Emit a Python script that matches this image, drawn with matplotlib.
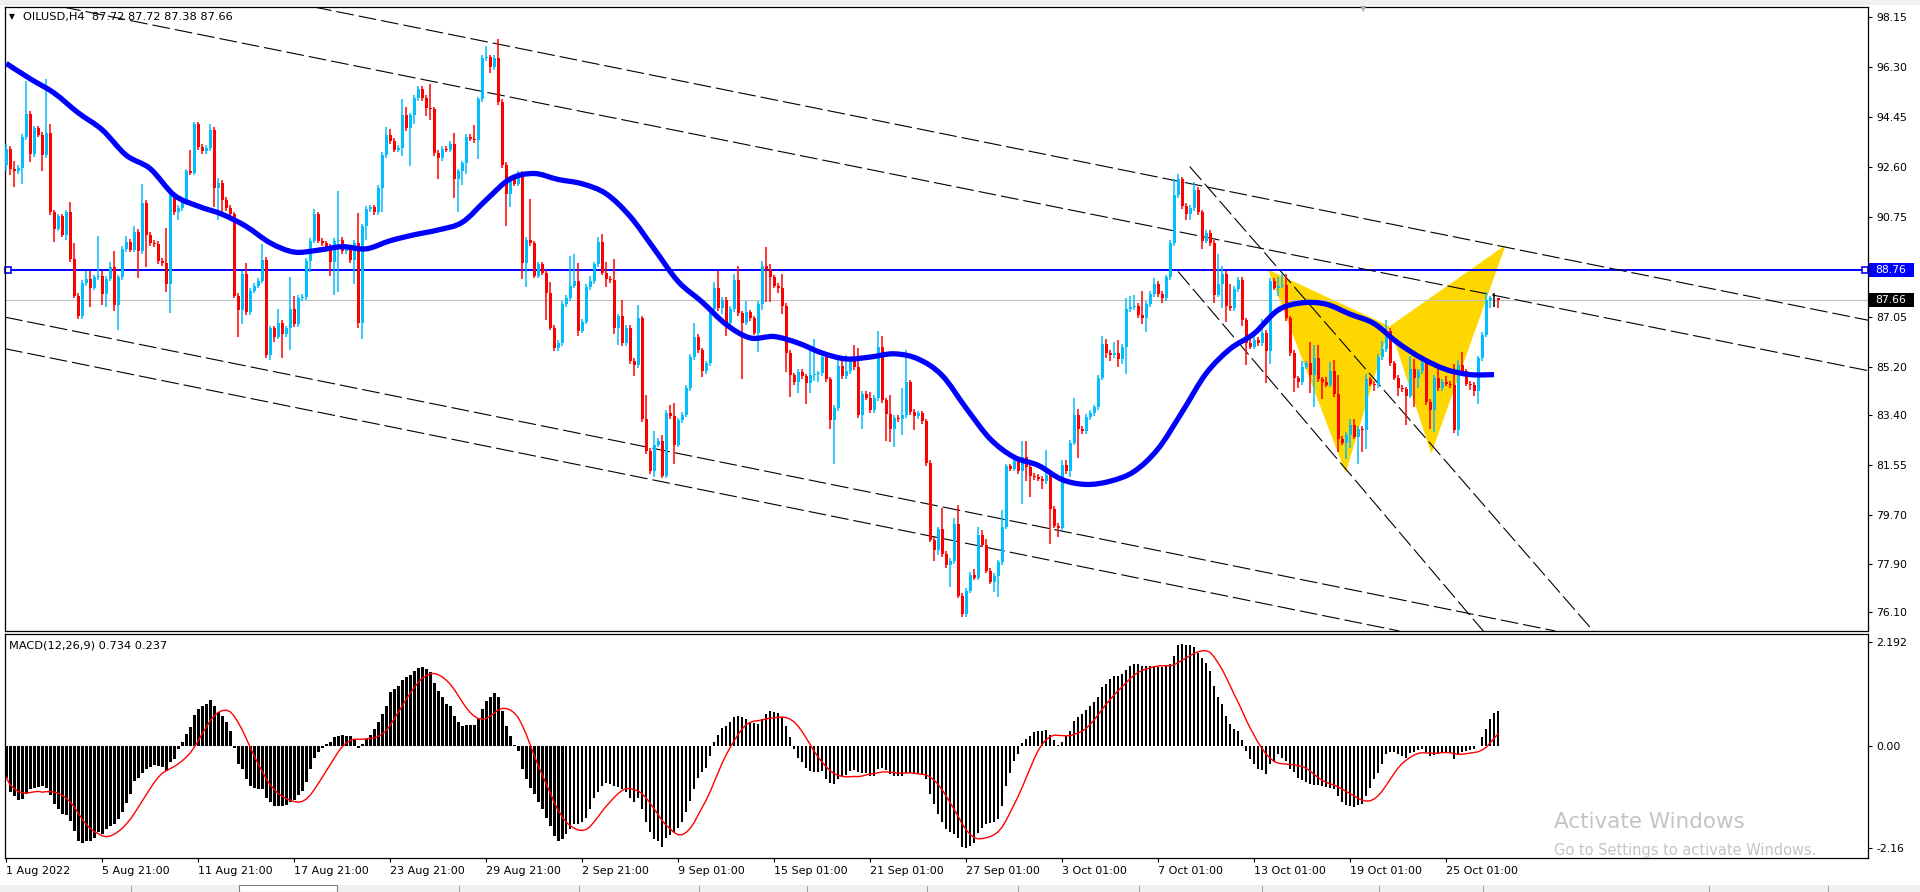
import numpy as np
import pandas as pd
import matplotlib
matplotlib.use("Agg")
import matplotlib.pyplot as plt
from matplotlib.patches import Polygon, Rectangle, PathPatch
from matplotlib.path import Path
from matplotlib.transforms import IdentityTransform

plt.rcParams['font.family'] = ['DejaVu Sans']

# ---------------- data (H4 bars, 1 Aug - 27 Oct 2022) ----------------
symbol = "OILUSD,H4"
last_ohlc = "87.72 87.72 87.38 87.66"
first_open = 92.66

closes = [
    93.26, 92.51, 92.45, 92.55, 93.71, 94.57, 93.06, 94.02, 93.79, 93.03, 93.87, 90.91, 90.31, 90.76, 90.08, 90.91, 89.18, 87.82, 87.06, 88.29, 88.45, 88.12, 88.50, 88.54,
    87.89, 88.45, 88.88, 87.47, 88.50, 89.56, 89.83, 89.53, 90.20, 89.48, 91.26, 90.08, 89.78, 89.74, 89.11, 89.03, 88.27, 91.52, 90.91, 91.07, 91.29, 92.43, 92.38, 94.17,
    93.34, 93.18, 93.30, 93.97, 91.82, 92.00, 91.37, 91.07, 90.84, 87.82, 87.29, 88.62, 87.21, 88.01, 88.20, 88.38, 89.15, 85.63, 86.61, 86.31, 86.83, 86.41, 86.61, 87.33,
    86.76, 87.74, 87.77, 89.11, 89.86, 90.84, 89.86, 89.76, 89.64, 89.06, 89.86, 89.89, 89.48, 89.55, 89.15, 89.78, 86.83, 90.39, 91.04, 91.10, 90.91, 91.82, 93.03, 93.79,
    93.56, 93.23, 93.30, 94.50, 94.02, 94.50, 95.15, 95.48, 95.15, 94.77, 94.73, 93.11, 92.93, 93.26, 93.23, 93.44, 92.13, 92.43, 92.73, 93.71, 93.64, 93.59, 95.10, 96.63,
    96.66, 96.28, 96.63, 95.00, 92.66, 91.60, 92.13, 91.97, 92.35, 89.03, 89.89, 89.76, 88.57, 88.98, 88.68, 87.94, 86.64, 85.88, 86.07, 87.51, 87.74, 88.20, 88.35, 86.53,
    86.86, 88.15, 88.35, 88.98, 89.81, 88.68, 88.45, 88.40, 86.61, 87.06, 86.07, 86.64, 85.40, 85.25, 86.98, 83.25, 82.07, 81.31, 82.30, 82.45, 81.16, 83.48, 83.36, 82.30,
    83.20, 83.42, 84.41, 85.55, 86.31, 85.80, 85.02, 85.32, 87.32, 88.12, 87.36, 87.66, 86.83, 87.33, 88.42, 87.17, 86.83, 87.21, 86.98, 86.45, 87.51, 88.92, 88.80, 88.50,
    88.20, 88.12, 87.44, 85.70, 84.87, 84.61, 84.99, 84.83, 84.60, 84.87, 84.92, 84.95, 85.55, 84.72, 83.20, 83.66, 85.22, 84.84, 85.02, 85.40, 85.17, 83.39, 84.18, 84.05,
    83.58, 84.03, 85.93, 83.95, 83.43, 82.90, 83.30, 83.25, 83.39, 84.61, 83.51, 83.36, 83.46, 83.17, 81.62, 78.79, 78.40, 79.17, 78.25, 77.84, 77.99, 79.38, 76.71, 76.03,
    76.89, 77.49, 77.38, 78.94, 78.60, 77.64, 77.23, 77.45, 77.94, 79.27, 81.50, 81.42, 81.69, 81.31, 81.84, 81.47, 81.16, 81.10, 81.05, 80.96, 81.19, 79.93, 79.30, 79.20,
    81.54, 81.31, 82.38, 83.42, 82.90, 82.80, 83.33, 83.48, 83.69, 84.79, 86.03, 85.70, 85.62, 85.70, 85.48, 85.93, 87.33, 87.41, 87.45, 87.09, 86.98, 87.51, 87.89, 88.27,
    87.89, 87.74, 88.50, 89.78, 91.55, 92.13, 91.14, 90.84, 91.07, 91.75, 90.91, 89.86, 90.16, 89.78, 87.86, 88.27, 88.62, 87.44, 87.36, 88.07, 88.42, 86.91, 86.07, 85.93,
    86.20, 86.07, 86.45, 85.78, 88.38, 88.12, 88.20, 88.23, 86.98, 85.70, 84.76, 84.61, 85.20, 85.32, 84.90, 85.50, 84.72, 84.61, 84.53, 85.05, 84.18, 82.52, 82.38, 82.67,
    83.05, 82.60, 82.90, 82.85, 84.72, 84.56, 84.50, 85.55, 85.85, 86.53, 85.32, 84.79, 84.41, 84.35, 84.12, 85.09, 84.79, 85.02, 85.32, 83.89, 83.58, 84.79, 84.41, 84.64,
    84.56, 84.50, 82.83, 85.25, 85.02, 84.56, 84.53, 84.30, 85.50, 86.38, 87.66, 87.72, 87.72, 87.66,
]

# wick lengths above / below the body, in tenths of a dollar
wick_up = [
    2, 1, 3, 1, 1, 12, 1, 1, 1, 1, 20, 3, 1, 1, 1, 1, 4, 6, 1, 1, 3, 3, 1, 15,
    2, 1, 2, 6, 1, 1, 2, 1, 2, 1, 7, 1, 1, 1, 1, 1, 13, 1, 1, 1, 1, 1, 8, 1,
    1, 1, 1, 2, 1, 2, 1, 1, 1, 1, 1, 1, 4, 1, 1, 1, 6, 1, 1, 1, 5, 1, 1, 12,
    5, 1, 1, 1, 1, 2, 1, 1, 1, 1, 1, 18, 1, 1, 1, 1, 11, 1, 1, 1, 1, 1, 1, 3,
    2, 1, 1, 6, 3, 1, 1, 1, 1, 1, 9, 1, 1, 1, 1, 1, 4, 1, 1, 1, 1, 5, 1, 1,
    4, 1, 1, 7, 1, 1, 1, 1, 1, 1, 1, 15, 1, 1, 1, 1, 4, 1, 1, 1, 1, 11, 10, 7,
    1, 1, 2, 1, 2, 3, 4, 1, 8, 1, 6, 1, 1, 1, 5, 1, 9, 1, 5, 1, 2, 1, 3, 5,
    1, 1, 1, 1, 5, 1, 1, 1, 1, 2, 6, 1, 1, 1, 2, 5, 1, 4, 1, 1, 1, 2, 7, 2,
    1, 1, 5, 1, 1, 1, 1, 1, 1, 11, 13, 1, 1, 1, 1, 1, 3, 3, 6, 1, 6, 7, 1, 1,
    2, 1, 6, 4, 1, 7, 1, 1, 10, 12, 1, 1, 1, 1, 1, 1, 1, 1, 8, 1, 1, 2, 7, 1,
    1, 1, 2, 3, 2, 2, 1, 1, 1, 6, 1, 1, 2, 1, 6, 6, 1, 1, 1, 1, 9, 1, 1, 1,
    2, 2, 1, 6, 2, 1, 1, 1, 1, 1, 3, 2, 1, 4, 5, 1, 4, 4, 4, 1, 9, 1, 1, 2,
    1, 1, 1, 1, 6, 2, 1, 1, 1, 3, 1, 1, 1, 1, 1, 11, 3, 1, 8, 1, 1, 1, 1, 3,
    2, 1, 5, 1, 1, 1, 3, 4, 4, 1, 1, 1, 2, 1, 8, 5, 5, 1, 2, 3, 4, 7, 1, 1,
    2, 2, 1, 1, 2, 1, 1, 1, 3, 4, 1, 1, 1, 1, 1, 5, 4, 1, 2, 2, 1, 1, 5, 1,
    2, 1, 8, 2, 5, 1, 1, 1, 1, 1, 3, 1, 2, 0,
]
wick_dn = [
    2, 2, 6, 1, 6, 1, 3, 1, 1, 6, 1, 1, 5, 1, 1, 2, 1, 1, 1, 1, 1, 7, 1, 1,
    4, 5, 1, 2, 9, 1, 1, 1, 1, 10, 1, 12, 1, 1, 1, 1, 3, 11, 1, 3, 1, 1, 1, 1,
    1, 1, 1, 1, 7, 12, 5, 1, 1, 1, 10, 5, 1, 1, 1, 1, 1, 1, 2, 2, 1, 9, 1, 8,
    1, 1, 1, 1, 4, 1, 1, 1, 1, 5, 12, 19, 1, 1, 1, 9, 2, 6, 5, 1, 1, 1, 9, 1,
    1, 1, 1, 3, 1, 14, 3, 1, 1, 3, 4, 1, 8, 1, 1, 1, 7, 12, 5, 4, 1, 1, 7, 1,
    1, 2, 1, 1, 1, 12, 5, 1, 1, 6, 9, 1, 1, 1, 1, 10, 1, 1, 1, 1, 1, 1, 1, 2,
    1, 1, 1, 1, 1, 1, 3, 1, 2, 6, 1, 1, 1, 4, 1, 1, 1, 1, 2, 1, 1, 1, 1, 7,
    1, 1, 1, 1, 1, 1, 2, 1, 1, 1, 1, 2, 5, 1, 1, 1, 21, 1, 1, 1, 7, 2, 12, 9,
    1, 2, 3, 7, 8, 1, 4, 1, 8, 4, 2, 3, 1, 1, 3, 16, 1, 1, 1, 1, 1, 1, 5, 1,
    1, 1, 1, 1, 10, 5, 7, 1, 6, 1, 1, 5, 1, 1, 1, 1, 4, 2, 1, 1, 8, 1, 1, 1,
    1, 1, 1, 1, 1, 1, 1, 4, 8, 1, 1, 1, 1, 1, 12, 5, 8, 1, 1, 3, 1, 13, 1, 3,
    1, 1, 2, 1, 11, 1, 1, 1, 1, 1, 1, 2, 2, 1, 3, 2, 10, 1, 1, 1, 2, 5, 1, 1,
    1, 2, 1, 1, 1, 1, 1, 2, 2, 1, 1, 3, 1, 1, 3, 1, 9, 6, 1, 1, 1, 2, 8, 1,
    1, 1, 1, 12, 5, 1, 3, 1, 1, 1, 5, 2, 1, 1, 7, 12, 1, 6, 1, 1, 1, 5, 1, 6,
    5, 1, 10, 8, 7, 1, 2, 1, 1, 1, 1, 1, 3, 1, 11, 1, 11, 4, 1, 1, 7, 8, 1, 1,
    1, 1, 1, 2, 1, 1, 2, 2, 5, 1, 1, 3, 3, 3,
]

# blue moving average, read every 6th bar
ma_step = 6
ma_values = [
    96.43, 95.86, 95.33, 94.60, 93.97, 93.03, 92.53, 91.55, 91.14, 90.84, 90.39,
    89.78, 89.44, 89.51, 89.64, 89.56, 89.86, 90.08, 90.26, 90.54, 91.37, 92.15,
    92.35, 92.13, 91.97, 91.60, 90.76, 89.56, 88.35, 87.59, 86.76, 86.26,
    86.31, 86.07, 85.70, 85.48, 85.55, 85.67, 85.48, 84.87, 83.66, 82.52,
    81.84, 81.54, 81.01, 80.83, 80.95, 81.31, 82.15, 83.51, 84.94, 85.85,
    86.42, 87.29, 87.56, 87.51, 87.14, 86.79, 86.07, 85.50, 85.09, 84.90, 84.90,
]

# MACD(12,26,9) main line, one value per bar
macd_main = [
    -0.67, -0.98, -1.05, -1.14, -1.11, -1.02, -0.91, -0.88, -0.86, -0.84, -0.88, -1.03, -1.23, -1.33, -1.44, -1.45, -1.58, -1.80, -2.00, -2.04, -2.01, -2.00, -1.93, -1.82,
    -1.86, -1.75, -1.68, -1.65, -1.54, -1.40, -1.21, -1.02, -0.74, -0.67, -0.58, -0.49, -0.44, -0.41, -0.42, -0.44, -0.53, -0.35, -0.28, -0.06, 0.07, 0.25, 0.39, 0.65,
    0.77, 0.83, 0.88, 0.96, 0.84, 0.72, 0.62, 0.49, 0.32, -0.04, -0.39, -0.49, -0.70, -0.84, -0.88, -0.90, -0.91, -1.09, -1.19, -1.26, -1.26, -1.26, -1.25, -1.19,
    -1.14, -1.04, -0.95, -0.76, -0.49, -0.25, -0.13, -0.04, 0.04, 0.07, 0.18, 0.21, 0.22, 0.21, 0.20, 0.14, -0.04, 0.04, 0.15, 0.22, 0.35, 0.49, 0.67, 0.84,
    1.14, 1.19, 1.26, 1.39, 1.44, 1.49, 1.58, 1.63, 1.66, 1.61, 1.56, 1.33, 1.16, 1.02, 0.88, 0.83, 0.62, 0.51, 0.42, 0.44, 0.44, 0.44, 0.58, 0.77,
    0.95, 1.02, 1.11, 1.02, 0.74, 0.41, 0.21, 0.01, -0.11, -0.49, -0.70, -0.88, -1.02, -1.19, -1.33, -1.51, -1.68, -1.89, -2.00, -1.95, -1.86, -1.74, -1.65, -1.65,
    -1.61, -1.51, -1.33, -1.09, -0.97, -0.84, -0.79, -0.81, -0.84, -0.86, -0.91, -0.98, -1.09, -1.18, -1.09, -1.33, -1.60, -1.81, -1.95, -2.00, -2.12, -1.93, -1.88, -1.82,
    -1.72, -1.60, -1.40, -1.16, -0.91, -0.67, -0.56, -0.46, -0.21, 0.07, 0.22, 0.38, 0.41, 0.49, 0.61, 0.63, 0.60, 0.56, 0.51, 0.48, 0.46, 0.56, 0.67, 0.74,
    0.72, 0.69, 0.60, 0.42, 0.18, -0.07, -0.25, -0.34, -0.46, -0.53, -0.55, -0.56, -0.53, -0.69, -0.79, -0.81, -0.70, -0.63, -0.62, -0.53, -0.51, -0.56, -0.58, -0.58,
    -0.63, -0.63, -0.48, -0.46, -0.51, -0.60, -0.63, -0.63, -0.63, -0.58, -0.58, -0.58, -0.58, -0.60, -0.70, -1.02, -1.23, -1.44, -1.60, -1.75, -1.82, -1.86, -1.93, -2.12,
    -2.14, -2.11, -2.04, -1.84, -1.72, -1.65, -1.63, -1.60, -1.54, -1.26, -0.84, -0.58, -0.32, -0.18, 0.06, 0.14, 0.21, 0.28, 0.32, 0.32, 0.33, 0.22, 0.13, 0.01,
    0.07, 0.20, 0.32, 0.53, 0.60, 0.67, 0.76, 0.84, 0.91, 1.02, 1.23, 1.30, 1.40, 1.47, 1.47, 1.51, 1.60, 1.68, 1.72, 1.72, 1.68, 1.68, 1.68, 1.68,
    1.66, 1.65, 1.67, 1.72, 1.89, 2.12, 2.14, 2.12, 2.11, 2.07, 1.95, 1.84, 1.75, 1.58, 1.26, 1.02, 0.88, 0.63, 0.46, 0.36, 0.32, 0.12, -0.11, -0.28,
    -0.39, -0.49, -0.51, -0.60, -0.39, -0.32, -0.18, -0.25, -0.32, -0.49, -0.56, -0.67, -0.72, -0.77, -0.81, -0.83, -0.83, -0.84, -0.86, -0.88, -0.90, -1.05, -1.19, -1.25,
    -1.26, -1.28, -1.25, -1.23, -1.05, -0.88, -0.69, -0.58, -0.39, -0.18, -0.13, -0.14, -0.18, -0.21, -0.25, -0.15, -0.13, -0.08, -0.06, -0.13, -0.21, -0.20, -0.18, -0.15,
    -0.14, -0.15, -0.27, -0.18, -0.13, -0.11, -0.08, -0.07, -0.01, 0.18, 0.36, 0.56, 0.69, 0.73,
]
macd_header = "MACD(12,26,9) 0.734 0.237"

time_labels = ["1 Aug 2022", "5 Aug 21:00", "11 Aug 21:00", "17 Aug 21:00", "23 Aug 21:00",
               "29 Aug 21:00", "2 Sep 21:00", "9 Sep 01:00", "15 Sep 01:00", "21 Sep 01:00",
               "27 Sep 01:00", "3 Oct 01:00", "7 Oct 01:00", "13 Oct 01:00", "19 Oct 01:00",
               "25 Oct 01:00"]
label_step = 24

price_ticks = [98.15, 96.30, 94.45, 92.60, 90.75, 88.90, 87.05, 85.20, 83.40, 81.55, 79.70, 77.90, 76.10]
macd_ticks = [2.192, 0.00, -2.16]
macd_tick_labels = ["2.192", "0.00", "-2.16"]

level_line = 88.76
bid_price = 87.66

# trend lines: (bar1, price1, bar2, price2, infinite)
trendlines = [
    (78.3, 98.48, 374.6, 89.63, True),
    (63.8, 97.04, 374.6, 87.76, True),
    (0.0, 87.02, 300.0, 78.02, True),
    (0.0, 85.85, 300.0, 76.85, True),
    (295.9, 92.61, 396.8, 75.40, False),
    (293.0, 88.72, 369.3, 75.40, False),
]
# harmonic pattern points (bar, price)
pat_X = (315.5, 88.79)
pat_A = (334.9, 81.25)
pat_B = (345.9, 86.69)
pat_C = (356.3, 81.97)
pat_D = (374.9, 89.70)

assert len(closes) == len(wick_up) == len(wick_dn) == len(macd_main)

# ---------------- derived ----------------
n = len(closes)
x = np.arange(n)
c = np.array(closes)
o = np.r_[first_open, c[:-1]]
hi = np.maximum(o, c) + np.array(wick_up) / 10
lo = np.minimum(o, c) - np.array(wick_dn) / 10
bull, bear = '#00BFFF', '#FF0000'
cols = np.where(c > o, bull, np.where(c < o, bear, 'black'))
signal = pd.Series(macd_main).rolling(9, min_periods=1).mean()


def smooth_path(xs, ys):
    # draw a curve through the read points (Catmull-Rom as cubic Bezier)
    pts = np.column_stack([xs, ys]).astype(float)
    verts = [pts[0]]
    codes = [Path.MOVETO]
    for i in range(len(pts) - 1):
        p0 = pts[i - 1] if i > 0 else pts[i]
        p1, p2 = pts[i], pts[i + 1]
        p3 = pts[i + 2] if i + 2 < len(pts) else pts[i + 1]
        verts += [p1 + (p2 - p0) / 6, p2 - (p3 - p1) / 6, p2]
        codes += [Path.CURVE4] * 3
    return Path(verts, codes)


W, H = 1920, 892
fig = plt.figure(figsize=(W / 100, H / 100), dpi=100, facecolor='white')
ax = fig.add_axes([5 / W, 1 - 631 / H, 1863 / W, 624 / H])
ax2 = fig.add_axes([5 / W, 1 - 858 / H, 1863 / W, 224 / H])

xlim = (-0.3, 465.5)
for a in (ax, ax2):
    a.set_xlim(*xlim)
    for s in a.spines.values():
        s.set_linewidth(0.9)
        s.set_color('black')
ax.set_ylim(75.40, 98.52)
ax2.set_ylim(-2.36, 2.35)

# pattern fill (behind candles)
ax.add_patch(Polygon([pat_X, pat_A, pat_B], closed=True, fc='#FFD700', ec='none', zorder=1))
ax.add_patch(Polygon([pat_B, pat_C, pat_D], closed=True, fc='#FFD700', ec='none', zorder=1))

# horizontal lines
ax.axhline(bid_price, color='#C0C0C0', lw=0.8, zorder=1.5)
ax.axhline(level_line, color='#0000FF', lw=1.4, zorder=2)
ax.plot([0.55, 464.8], [level_line, level_line], ls='none', marker='s', ms=4,
        mfc='white', mec='#0000FF', mew=1.2, zorder=2.1, clip_on=False)

# trend lines
dash = (0, (16, 4.5))
for b1, p1, b2, p2, inf in trendlines:
    if inf:
        ax.axline((b1, p1), (b2, p2), color='black', lw=0.8, ls=dash, zorder=2)
    else:
        slope = (p2 - p1) / (b2 - b1)
        ax.plot([b1, 470], [p1, p1 + slope * (470 - b1)], color='black', lw=0.8, ls=dash, zorder=2)

# candles
ax.vlines(x, lo, hi, colors=cols, lw=1.1, zorder=3)
body = np.maximum(np.abs(c - o), 0.03)
ax.bar(x, body, bottom=np.minimum(o, c), width=0.74, color=cols, linewidth=0, zorder=3.1)

# moving average
ma_x = np.arange(len(ma_values)) * ma_step
ax.add_patch(PathPatch(smooth_path(ma_x, ma_values), fc='none', ec='#0000FF', lw=3.8,
                       capstyle='butt', joinstyle='round', zorder=4))

# MACD
ax2.bar(x, macd_main, width=0.68, color='black', linewidth=0, zorder=2)
ax2.plot(x, signal, color='#FF0000', lw=1.0, zorder=3)

# axes ticks
ax.set_xticks([])
ax2.set_xticks(np.arange(len(time_labels)) * label_step)
ax2.set_xticklabels(time_labels, ha='left')
ax2.tick_params(axis='x', direction='out', length=3, width=0.8, pad=2.5, labelsize=8)

ax.set_yticks(price_ticks)
ax.set_yticklabels(['%.2f' % v for v in price_ticks])
ax2.set_yticks(macd_ticks)
ax2.set_yticklabels(macd_tick_labels)
for a in (ax, ax2):
    a.yaxis.tick_right()
    a.tick_params(axis='y', direction='out', length=3, width=0.8, pad=3, labelsize=7.8)

# header texts
ident = IdentityTransform()
fig.text(23, H - 17, symbol + "  " + last_ohlc, transform=ident, fontsize=8.2, va='center', ha='left')
fig.text(12, H - 17, u'\u25BC', transform=ident, fontsize=5.5, va='center', ha='center')
fig.text(9, H - 646, macd_header, transform=ident, fontsize=8.2, va='center', ha='left')

# price boxes on the right axis
fig.canvas.draw()
for val, fc in ((level_line, '#0000FF'), (bid_price, 'black')):
    yy = ax.transData.transform((0, val))[1]
    fig.patches.append(Rectangle((1869, yy - 7), 45, 14, transform=ident, fc=fc, ec='none', zorder=5))
    fig.text(1875, yy, '%.2f' % val, transform=ident, fontsize=7.8, color='white',
             va='center', ha='left', zorder=6)

# shift marker at top
fig.text(1363, H - 9, u'\u25BC', transform=ident, fontsize=6, color='#A8A8A8', va='center', ha='center')

# window chrome
fig.patches.append(Rectangle((0, H - 5), W, 5, transform=ident, fc='#F0F0F0', ec='none', zorder=0))
fig.patches.append(Rectangle((0, 0), W, 7, transform=ident, fc='#F0F0F0', ec='none', zorder=0))
fig.patches.append(Rectangle((239, 0), 98, 7, transform=ident, fc='white', ec='#808080', lw=0.8, zorder=0.5))
for sx in [131, 459, 579, 699, 807, 927, 1018, 1139, 1262, 1379, 1483, 1709, 1828]:
    fig.patches.append(Rectangle((sx, 0), 1, 6, transform=ident, fc='#A0A0A0', ec='none', zorder=0.5))

# watermark
fig.text(1554, H - 822, "Activate Windows", transform=ident, fontsize=15.5, color='#C4C4C4', va='center', ha='left')
fig.text(1554, H - 851, "Go to Settings to activate Windows.", transform=ident, fontsize=10.5, color='#C4C4C4', va='center', ha='left')

fig.savefig('out.png', dpi=100, facecolor='white')
